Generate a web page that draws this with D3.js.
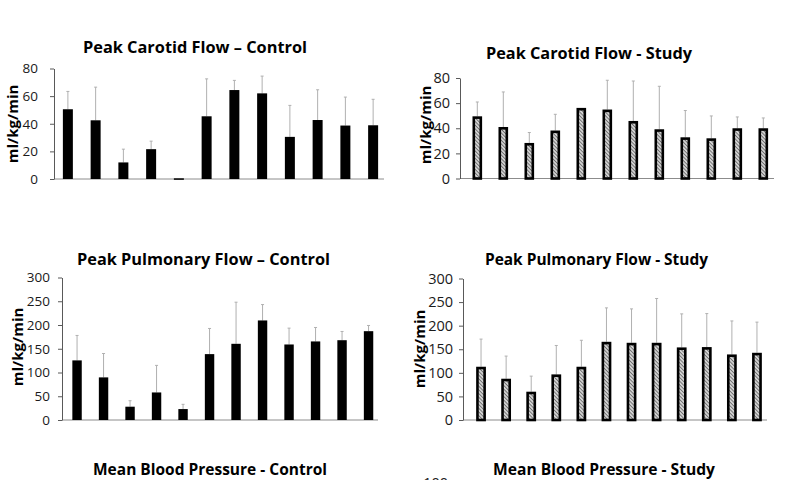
<!DOCTYPE html>
<html>
<head>
<meta charset="utf-8">
<script src="https://cdn.jsdelivr.net/npm/d3@7"></script>
<style>
  html, body { margin: 0; padding: 0; background: #fff; }
  svg { display: block; }
  text { font-family: "Open Sans", "Liberation Sans", sans-serif; }
</style>
</head>
<body>
<svg id="chart" width="800" height="480"></svg>
<script>
// ---- data ----
const categories = ["1","2","3","4","5","6","7","8","9","10","11","12"];

const carotidControl    = [50.5, 42.5, 12, 21.6, 0.5, 45.4, 64.4, 62, 30.5, 42.7, 38.7, 38.9];
const carotidControlErr = [12.9, 24, 9.6, 5.8, 0, 27.1, 7, 12.5, 22.8, 21.9, 20.6, 18.8];

const carotidStudy      = [49.5, 41, 28.3, 38.2, 56.2, 54.9, 45.8, 39.2, 32.8, 32, 40, 40];
const carotidStudyErr   = [11.4, 27.9, 8.3, 12.9, 0, 23.3, 31.8, 34.2, 21.3, 17.8, 9, 8.2];

const pulmonaryControl    = [125.5, 89.7, 28, 58, 23, 138.7, 160.4, 209.6, 159, 165.4, 168, 187];
const pulmonaryControlErr = [52.5, 50.3, 12.6, 57, 10, 54, 87.6, 33.4, 34.4, 29.4, 18.4, 12];

const pulmonaryStudy      = [112.9, 87.5, 60, 96.7, 112.9, 165.8, 163.7, 163.7, 153.9, 154.6, 139, 142.5];
const pulmonaryStudyErr   = [58.6, 48, 33, 61.3, 56.1, 71.9, 71.9, 93.9, 71.1, 71, 71, 65];

const carotidTicks   = [0, 20, 40, 60, 80];
const pulmonaryTicks = [0, 50, 100, 150, 200, 250, 300];

const titles = [
  "Peak Carotid Flow \u2013 Control",
  "Peak Carotid Flow - Study",
  "Peak Pulmonary Flow \u2013 Control",
  "Peak Pulmonary Flow - Study",
  "Mean Blood Pressure - Control",
  "Mean Blood Pressure - Study"
];
const yLabel = "ml/kg/min";

// ---- drawing ----
const svg = d3.select("#chart");
const defs = svg.append("defs");
const pat = defs.append("pattern")
  .attr("id", "hatch").attr("width", 2.6).attr("height", 2.6)
  .attr("patternUnits", "userSpaceOnUse")
  .attr("patternTransform", "rotate(-45)");
pat.append("rect").attr("width", 2.6).attr("height", 2.6).attr("fill", "#d2d2d2");
pat.append("line").attr("x1", 0).attr("y1", 0).attr("x2", 0).attr("y2", 2.6)
  .attr("stroke", "#404040").attr("stroke-width", 1.2);

function drawPanel(cfg) {
  const g = svg.append("g");
  const x = d3.scaleBand().domain(categories)
    .range([cfg.bandStart, cfg.bandEnd])
    .paddingInner(1 - cfg.barRatio).paddingOuter((1 - cfg.barRatio) / 2);
  const y = d3.scaleLinear().domain([cfg.ticks[0], cfg.ticks[cfg.ticks.length - 1]])
    .range([cfg.y0, cfg.y1]);

  // baseline
  g.append("line")
    .attr("x1", cfg.axisX).attr("x2", cfg.baseEnd)
    .attr("y1", y(0)).attr("y2", y(0))
    .attr("stroke", "#8c8c8c").attr("stroke-width", 1);

  // y axis
  const ax = g.append("g").attr("transform", `translate(${cfg.axisX},0)`)
    .call(d3.axisLeft(y).tickValues(cfg.ticks).tickSize(4).tickPadding(cfg.tickPad).tickSizeOuter(0));
  ax.select(".domain").attr("stroke", "#595959");
  ax.selectAll(".tick line").attr("stroke", "#595959");
  ax.selectAll(".tick text").attr("font-size", cfg.tickFont).attr("fill", "#1a1a1a")
    .attr("font-family", "\"Open Sans\", sans-serif");

  // error bars
  const eg = g.append("g");
  cfg.values.forEach((v, i) => {
    const e = cfg.errs[i];
    if (!e) return;
    const cx = x(categories[i]) + x.bandwidth() / 2;
    eg.append("line").attr("x1", cx).attr("x2", cx)
      .attr("y1", y(v)).attr("y2", y(v + e))
      .attr("stroke", "#b0b0b0").attr("stroke-width", 1);
    eg.append("line").attr("x1", cx - 1.5).attr("x2", cx + 1.5)
      .attr("y1", y(v + e)).attr("y2", y(v + e))
      .attr("stroke", "#b0b0b0").attr("stroke-width", 1);
  });

  // bars
  const bw = x.bandwidth();
  if (cfg.hatched) {
    const sw = 2.6;
    g.append("g").selectAll("rect").data(cfg.values).join("rect")
      .attr("x", (d, i) => x(categories[i]) + sw / 2)
      .attr("width", bw - sw)
      .attr("y", d => y(d) + sw / 2)
      .attr("height", d => Math.max(0, y(0) - y(d) - sw / 2))
      .attr("fill", "url(#hatch)")
      .attr("stroke", "#000").attr("stroke-width", sw);
  } else {
    g.append("g").selectAll("rect").data(cfg.values).join("rect")
      .attr("x", (d, i) => x(categories[i]))
      .attr("width", bw)
      .attr("y", d => y(d))
      .attr("height", d => Math.max(1.5, y(0) - y(d)))
      .attr("fill", "#000");
  }

  // y label
  g.append("text")
    .attr("transform", `translate(${cfg.labelX},${cfg.labelY}) rotate(-90)`)
    .attr("text-anchor", "middle")
    .attr("font-size", 15).attr("font-weight", 700).attr("fill", "#000")
    .text(yLabel);

  // title
  g.append("text")
    .attr("x", cfg.titleX).attr("y", cfg.titleY)
    .attr("text-anchor", "middle")
    .attr("font-size", 16.5).attr("font-weight", 700).attr("fill", "#000")
    .attr("textLength", cfg.titleW).attr("lengthAdjust", "spacingAndGlyphs")
    .text(cfg.title);
}

drawPanel({
  values: carotidControl, errs: carotidControlErr, ticks: carotidTicks, hatched: false,
  bandStart: 54, bandEnd: 387, barRatio: 0.36, axisX: 54, baseEnd: 384,
  y0: 179, y1: 68.5, tickPad: 12, tickFont: 13.5,
  labelX: 18, labelY: 124, title: titles[0], titleX: 195, titleY: 53, titleW: 224
});
drawPanel({
  values: carotidStudy, errs: carotidStudyErr, ticks: carotidTicks, hatched: true,
  bandStart: 464.3, bandEnd: 776.3, barRatio: 0.37, axisX: 460, baseEnd: 774,
  y0: 178.5, y1: 78, tickPad: 6, tickFont: 14.5,
  labelX: 431, labelY: 125, title: titles[1], titleX: 589, titleY: 59, titleW: 206
});
drawPanel({
  values: pulmonaryControl, errs: pulmonaryControlErr, ticks: pulmonaryTicks, hatched: false,
  bandStart: 63.8, bandEnd: 381.8, barRatio: 0.355, axisX: 62, baseEnd: 378,
  y0: 420, y1: 277.5, tickPad: 8, tickFont: 13.5,
  labelX: 23, labelY: 347, title: titles[2], titleX: 203.5, titleY: 265, titleW: 253
});
drawPanel({
  values: pulmonaryStudy, errs: pulmonaryStudyErr, ticks: pulmonaryTicks, hatched: true,
  bandStart: 468.5, bandEnd: 769.5, barRatio: 0.39, axisX: 463, baseEnd: 767,
  y0: 420, y1: 278.5, tickPad: 6, tickFont: 14.5,
  labelX: 425, labelY: 349, title: titles[3], titleX: 596.5, titleY: 265, titleW: 223
});

// partially visible bottom row
svg.append("text").attr("x", 210).attr("y", 475).attr("text-anchor", "middle")
  .attr("font-size", 16.5).attr("font-weight", 700)
  .attr("textLength", 234).attr("lengthAdjust", "spacingAndGlyphs").text(titles[4]);
svg.append("text").attr("x", 604).attr("y", 475).attr("text-anchor", "middle")
  .attr("font-size", 16.5).attr("font-weight", 700)
  .attr("textLength", 222).attr("lengthAdjust", "spacingAndGlyphs").text(titles[5]);
svg.append("text").attr("x", 448).attr("y", 488).attr("text-anchor", "end")
  .attr("font-size", 14.5).attr("fill", "#1a1a1a").text("100");
</script>
</body>
</html>
